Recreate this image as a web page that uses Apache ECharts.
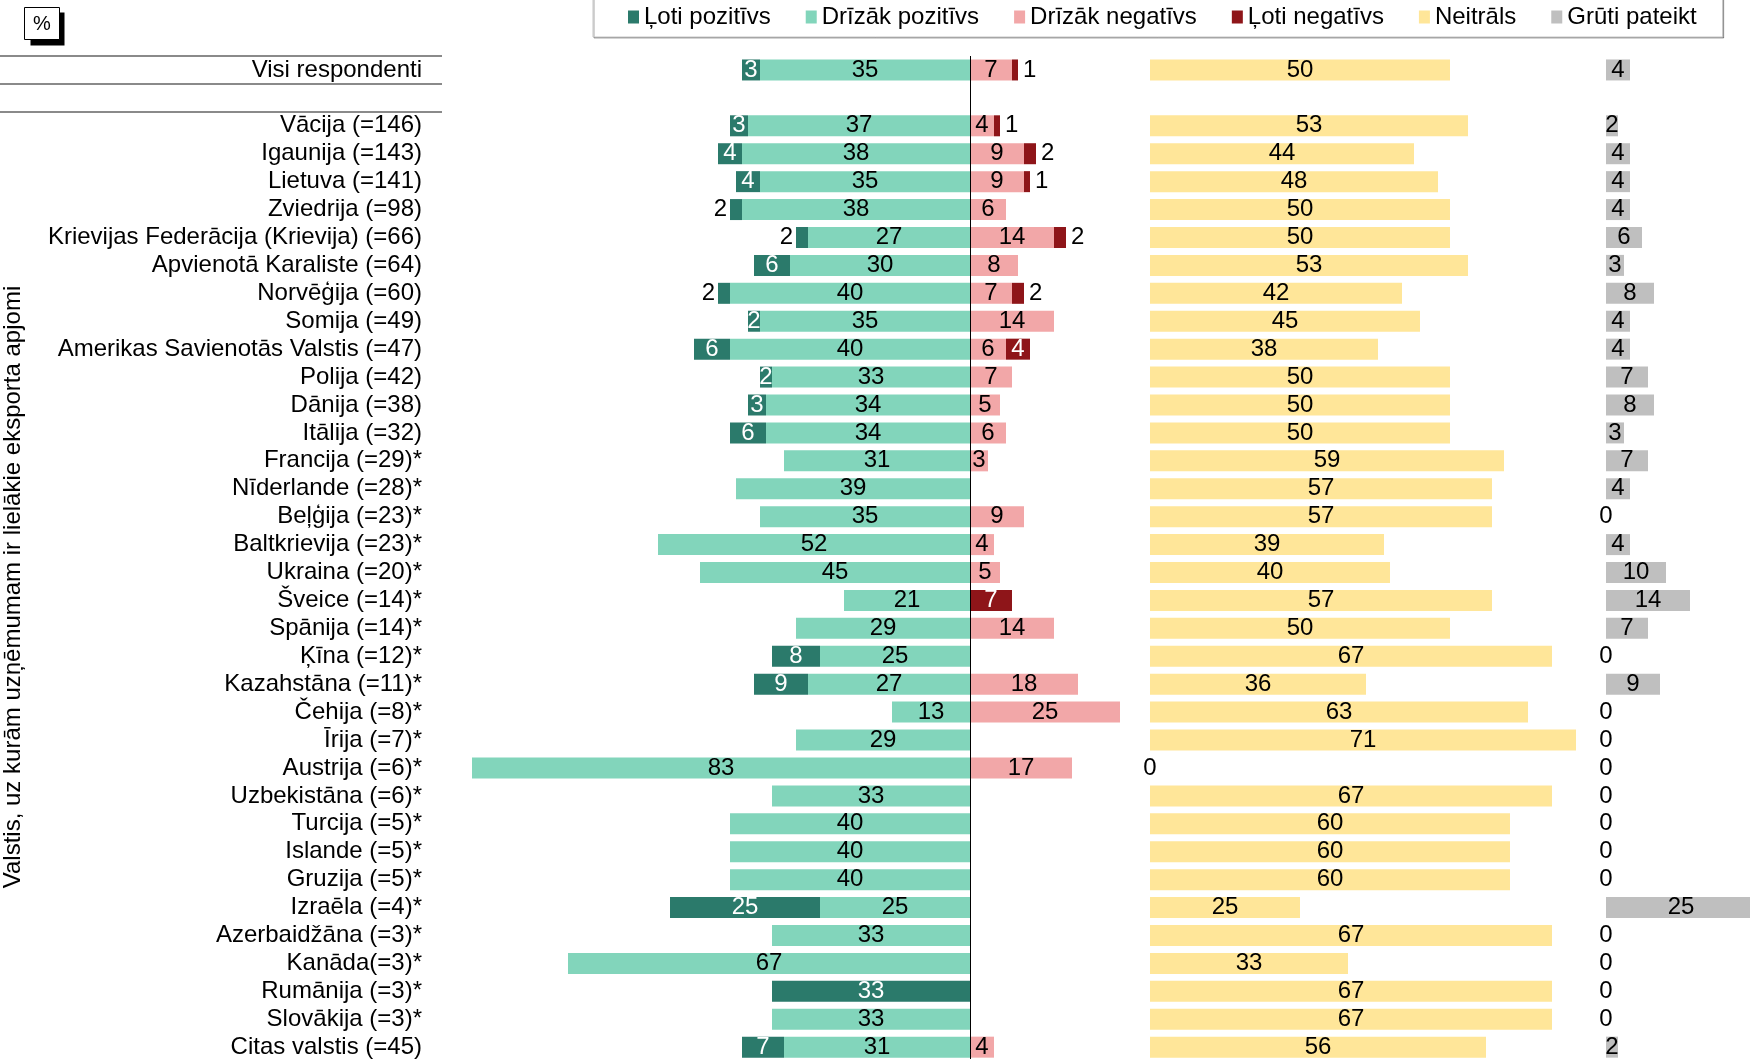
<!DOCTYPE html>
<html>
<head>
<meta charset="utf-8">
<script src="https://cdn.jsdelivr.net/npm/echarts@6/dist/echarts.min.js"></script>
<style>
  html, body { margin: 0; padding: 0; background: #fff; }
  #chart { width: 1750px; height: 1059px; }
</style>
</head>
<body>
<div id="chart"></div>
<script>
// Row labels (the empty string is the spacer row under the total)
const categories = [
  'Visi respondenti', '',
  'Vācija (=146)', 'Igaunija (=143)', 'Lietuva (=141)', 'Zviedrija (=98)',
  'Krievijas Federācija (Krievija) (=66)', 'Apvienotā Karaliste (=64)', 'Norvēģija (=60)',
  'Somija (=49)', 'Amerikas Savienotās Valstis (=47)', 'Polija (=42)', 'Dānija (=38)',
  'Itālija (=32)', 'Francija (=29)*', 'Nīderlande (=28)*', 'Beļģija (=23)*',
  'Baltkrievija (=23)*', 'Ukraina (=20)*', 'Šveice (=14)*', 'Spānija (=14)*',
  'Ķīna (=12)*', 'Kazahstāna (=11)*', 'Čehija (=8)*', 'Īrija (=7)*', 'Austrija (=6)*',
  'Uzbekistāna (=6)*', 'Turcija (=5)*', 'Islande (=5)*', 'Gruzija (=5)*', 'Izraēla (=4)*',
  'Azerbaidžāna (=3)*', 'Kanāda(=3)*', 'Rumānija (=3)*', 'Slovākija (=3)*', 'Citas valstis (=45)'
];

const seriesNames = ['Ļoti pozitīvs', 'Drīzāk pozitīvs', 'Drīzāk negatīvs', 'Ļoti negatīvs', 'Neitrāls', 'Grūti pateikt'];

const lotiPozitivs   = [3, null, 3, 4, 4, 2, 2, 6, 2, 2, 6, 2, 3, 6, 0, 0, 0, 0, 0, 0, 0, 8, 9, 0, 0, 0, 0, 0, 0, 0, 25, 0, 0, 33, 0, 7];
const drizakPozitivs = [35, null, 37, 38, 35, 38, 27, 30, 40, 35, 40, 33, 34, 34, 31, 39, 35, 52, 45, 21, 29, 25, 27, 13, 29, 83, 33, 40, 40, 40, 25, 33, 67, 0, 33, 31];
const drizakNegativs = [7, null, 4, 9, 9, 6, 14, 8, 7, 14, 6, 7, 5, 6, 3, 0, 9, 4, 5, 0, 14, 0, 18, 25, 0, 17, 0, 0, 0, 0, 0, 0, 0, 0, 0, 4];
const lotiNegativs   = [1, null, 1, 2, 1, 0, 2, 0, 2, 0, 4, 0, 0, 0, 0, 0, 0, 0, 0, 7, 0, 0, 0, 0, 0, 0, 0, 0, 0, 0, 0, 0, 0, 0, 0, 0];
const neitrals       = [50, null, 53, 44, 48, 50, 50, 53, 42, 45, 38, 50, 50, 50, 59, 57, 57, 39, 40, 57, 50, 67, 36, 63, 71, 0, 67, 60, 60, 60, 25, 67, 33, 67, 67, 56];
const grutiPateikt   = [4, null, 2, 4, 4, 4, 6, 3, 8, 4, 4, 7, 8, 3, 7, 4, 0, 4, 10, 14, 7, 0, 9, 0, 0, 0, 0, 0, 0, 0, 25, 0, 0, 0, 0, 2];

// Rows whose small "Ļoti pozitīvs" value is written beside the bar
const lpLabelOutside = ['Zviedrija (=98)', 'Krievijas Federācija (Krievija) (=66)', 'Norvēģija (=60)'];

const COLORS = ['#2B7A6B', '#82D5BB', '#F2A7A8', '#8E1519', '#FFE699', '#BFBFBF'];
const FONT = 'Liberation Sans, Arial, sans-serif';
const FS = 24;
const BAR_W = 21;

const absLabel = p => (p.value == null || p.value === '-' || Math.abs(p.value) === 0) ? '' : String(Math.abs(p.value));
const plainLabel = p => (p.value == null || p.value === '-') ? '' : String(p.value);

// left side of the diverging block is drawn as negative numbers
const toLeft = arr => arr.map(v => v == null ? '-' : -v);
const toRight = arr => arr.map(v => v == null ? '-' : v);

const lpData = lotiPozitivs.map((v, i) => {
  if (v == null) return '-';
  const item = { value: -v };
  if (lpLabelOutside.includes(categories[i])) {
    item.label = { position: 'left', distance: 3, color: '#000' };
  }
  return item;
});

const lnData = lotiNegativs.map(v => {
  if (v == null) return '-';
  const item = { value: v };
  if (v > 0 && v < 3) item.label = { position: 'right', distance: 5, color: '#000' };
  return item;
});

const baseLabel = (color, fmt) => ({
  show: true, position: 'inside', color: color, fontSize: FS, fontFamily: FONT, formatter: fmt
});

const GRID_TOP = 56;
const ROW_H = 27.92;
const GRID_H = ROW_H * categories.length;

const catAxis = (gridIndex, extra) => Object.assign({
  type: 'category', gridIndex: gridIndex, data: categories, inverse: true,
  axisLine: { show: false }, axisTick: { show: false }, axisLabel: { show: false },
  splitLine: { show: false }
}, extra || {});

const gridBox = (left, width, top, height) => ({ left, width, top, height, outerBoundsMode: 'none', containLabel: false });

const option = {
  animation: false,
  backgroundColor: '#fff',
  textStyle: { fontFamily: FONT },
  legend: {
    left: 593, top: -4,
    padding: [9, 26, 8, 35],
    itemGap: 35, itemWidth: 11, itemHeight: 13,
    icon: 'rect',
    data: seriesNames,
    textStyle: { fontSize: FS, color: '#000', fontFamily: FONT },
    borderColor: '#c4c4c4', borderWidth: 1,
    backgroundColor: '#fff',
    shadowColor: 'rgba(0,0,0,0.35)', shadowOffsetY: 1, shadowOffsetX: 1, shadowBlur: 0
  },
  grid: [
    gridBox(430, 720, GRID_TOP, GRID_H),     // diverging block
    gridBox(1150, 450, GRID_TOP, GRID_H),    // Neitrāls
    gridBox(1606, 150, GRID_TOP, GRID_H),    // Grūti pateikt
    gridBox(0, 442, GRID_TOP, ROW_H * 2)     // rules around the total row and spacer
  ],
  xAxis: [
    { type: 'value', gridIndex: 0, min: -90, max: 30, show: false },
    { type: 'value', gridIndex: 1, min: 0, max: 75, show: false },
    { type: 'value', gridIndex: 2, min: 0, max: 25, show: false },
    { type: 'value', gridIndex: 3, min: 0, max: 1, show: false }
  ],
  yAxis: [
    catAxis(0, { axisLabel: { show: true, interval: 0, margin: 8, color: '#000', fontSize: FS, fontFamily: FONT } }),
    catAxis(1),
    catAxis(2),
    {
      type: 'category', gridIndex: 3, data: categories.slice(0, 2), inverse: true,
      axisLine: { show: false }, axisTick: { show: false }, axisLabel: { show: false },
      splitLine: { show: true, interval: 0, lineStyle: { color: '#8a8a8a', width: 2 } }
    }
  ],
  graphic: [
    {
      type: 'group', left: 24, top: 7, children: [
        { type: 'rect', shape: { x: 6, y: 5, width: 34, height: 33 }, style: { fill: '#000' } },
        { type: 'rect', shape: { x: 0, y: 0, width: 35, height: 32 }, style: { fill: '#fff', stroke: '#000', lineWidth: 1 } },
        { type: 'text', x: 17.5, y: 16.5, style: { text: '%', fontSize: 20, fontFamily: FONT, fill: '#000', align: 'center', verticalAlign: 'middle' } }
      ]
    },
    {
      type: 'text', x: 13, y: 587, rotation: Math.PI / 2,
      style: { text: 'Valstis, uz kurām uzņēmumam ir lielākie eksporta apjomi', fontSize: FS, fontFamily: FONT, fill: '#000', align: 'center', verticalAlign: 'middle' }
    }
  ],
  series: [
    {
      name: 'Drīzāk pozitīvs', type: 'bar', stack: 'div', xAxisIndex: 0, yAxisIndex: 0,
      barWidth: BAR_W, data: toLeft(drizakPozitivs), itemStyle: { color: COLORS[1] },
      label: baseLabel('#000', absLabel),
      markLine: {
        silent: true, symbol: 'none', label: { show: false },
        lineStyle: { color: '#000', width: 1, type: 'solid' },
        data: [{ xAxis: 0 }]
      }
    },
    {
      name: 'Ļoti pozitīvs', type: 'bar', stack: 'div', xAxisIndex: 0, yAxisIndex: 0,
      barWidth: BAR_W, data: lpData, itemStyle: { color: COLORS[0] },
      label: baseLabel('#fff', absLabel)
    },
    {
      name: 'Drīzāk negatīvs', type: 'bar', stack: 'div', xAxisIndex: 0, yAxisIndex: 0,
      barWidth: BAR_W, data: toRight(drizakNegativs), itemStyle: { color: COLORS[2] },
      label: baseLabel('#000', absLabel)
    },
    {
      name: 'Ļoti negatīvs', type: 'bar', stack: 'div', xAxisIndex: 0, yAxisIndex: 0,
      barWidth: BAR_W, data: lnData, itemStyle: { color: COLORS[3] },
      label: baseLabel('#fff', absLabel)
    },
    {
      name: 'Neitrāls', type: 'bar', xAxisIndex: 1, yAxisIndex: 1,
      barWidth: BAR_W, data: toRight(neitrals), itemStyle: { color: COLORS[4] },
      label: baseLabel('#000', plainLabel)
    },
    {
      name: 'Grūti pateikt', type: 'bar', xAxisIndex: 2, yAxisIndex: 2,
      barWidth: BAR_W, data: toRight(grutiPateikt), itemStyle: { color: COLORS[5] },
      label: baseLabel('#000', plainLabel)
    }
  ]
};

const chart = echarts.init(document.getElementById('chart'), null, { renderer: 'canvas' });
chart.setOption(option);
</script>
</body>
</html>
